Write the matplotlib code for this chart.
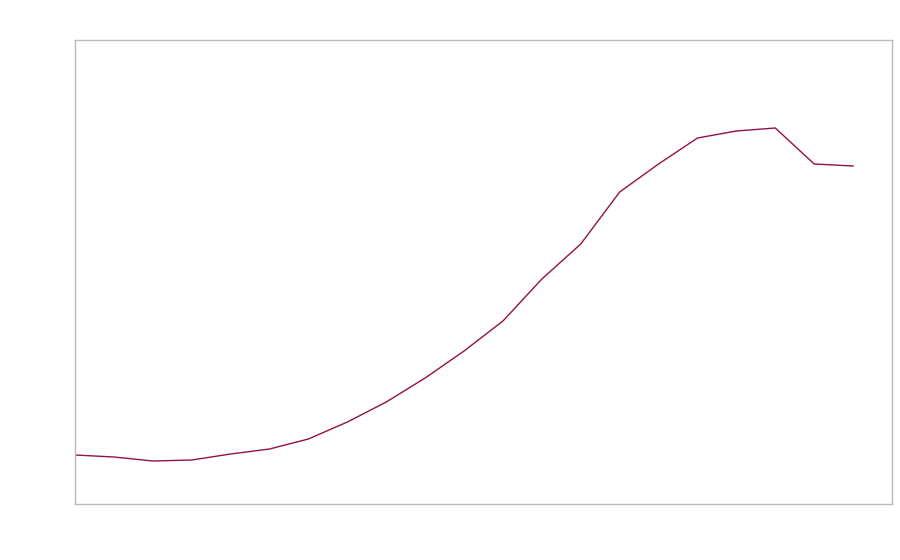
import numpy as np
import matplotlib
matplotlib.use("Agg")
import matplotlib.pyplot as plt

# values (arbitrary units, no axis labels shown)
periods = np.arange(21)
values = [49, 47, 43, 44, 50, 55, 65, 82, 102, 126, 153, 183,
          225, 260, 312, 340, 366, 373, 376, 340, 338]

fig = plt.figure(figsize=(9, 5.6), dpi=100)
ax = fig.add_axes([75 / 900, 56 / 560, 817 / 900, 464 / 560])

ax.plot(periods, values, color="#93104a", linewidth=1.0)

ax.set_xlim(0, 21)
ax.set_ylim(0, 464)
ax.set_xticks([])
ax.set_yticks([])
for side in ax.spines.values():
    side.set_color("#bbbbbb")
    side.set_linewidth(1.0)

fig.savefig("out.png", dpi=100)
